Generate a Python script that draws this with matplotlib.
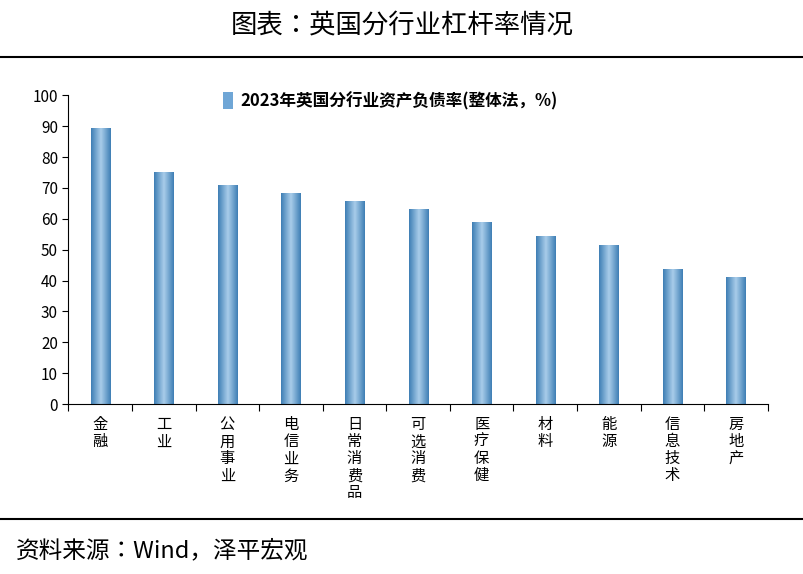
import numpy as np
import matplotlib.pyplot as plt
from matplotlib import font_manager
from matplotlib.colors import LinearSegmentedColormap

# pick whatever CJK family is actually registered
cjk = 'Noto Sans CJK SC'
names = sorted({f.name for f in font_manager.fontManager.ttflist})
for n in names:
    if 'CJK' in n:
        cjk = n
        break
plt.rcParams['font.family'] = [cjk, 'DejaVu Sans']

# data
categories = ['金融', '工业', '公用事业', '电信业务', '日常消费品', '可选消费',
              '医疗保健', '材料', '能源', '信息技术', '房地产']
values = [89.5, 75.2, 70.8, 68.4, 65.7, 63.3, 59.1, 54.3, 51.6, 43.6, 41.2]
series_name = '2023年英国分行业资产负债率(整体法，%)'

fig = plt.figure(figsize=(8.04, 5.74), dpi=100)
ax = fig.add_axes([0.085, 0.296, 0.87, 0.538])

x = np.arange(len(categories))
w = 0.3
cmap = LinearSegmentedColormap.from_list('b', ['#3f7fb5', '#a9cdea', '#3f7fb5'])
grad = np.linspace(0, 1, 64).reshape(1, -1)
bars = ax.bar(x, values, width=w, color='#6fa6d6', label=series_name)
for b in bars:
    x0, y0 = b.get_x(), b.get_y()
    img = ax.imshow(grad, extent=[x0, x0 + b.get_width(), y0, y0 + b.get_height()],
                    aspect='auto', cmap=cmap, zorder=2)
    img.set_clip_path(b)

ax.set_xlim(-0.5, len(categories) - 0.5)
ax.set_ylim(0, 100)
ax.set_yticks(range(0, 101, 10))
ax.set_xticks(np.arange(len(categories) + 1) - 0.5, minor=False)
ax.set_xticklabels([])
ax.tick_params(axis='x', length=5, direction='out')
ax.tick_params(axis='y', labelsize=11, direction='out', length=4)
for i, c in enumerate(categories):
    ax.text(i, -4, '\n'.join(c), ha='center', va='top', fontsize=11, linespacing=1.0)
for s in ['top', 'right']:
    ax.spines[s].set_visible(False)

leg = ax.legend(loc='upper left', bbox_to_anchor=(0.2, 1.06), frameon=False,
                prop={'family': cjk, 'size': 12, 'weight': 'bold'}, handlelength=0.6,
                handleheight=1.2, handletextpad=0.4)

fig.text(0.5, 0.955, '图表：英国分行业杠杆率情况', ha='center', va='center', fontsize=19)
fig.add_artist(plt.Line2D([0, 1], [0.9, 0.9], color='black', lw=1.5))
fig.add_artist(plt.Line2D([0, 1], [0.095, 0.095], color='black', lw=1.5))
fig.text(0.02, 0.04, '资料来源：Wind，泽平宏观', ha='left', va='center', fontsize=17,
         style='italic')

fig.savefig('out.png', dpi=100)
